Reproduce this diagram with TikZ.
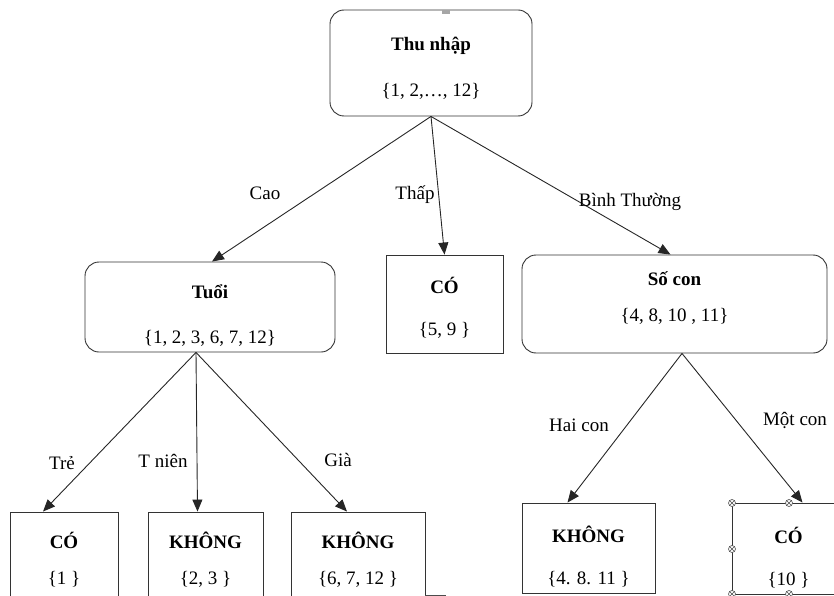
\documentclass[tikz,border=0pt]{standalone}
\usepackage{fontspec}
\setmainfont{Liberation Serif}
\usetikzlibrary{arrows.meta}
\tikzset{
  split/.style={draw=black!80, line width=0.9pt, rounded corners=14pt, inner sep=0pt},
  leaf/.style={draw=black!80, line width=0.9pt, inner sep=0pt},
  txt/.style={align=center, inner sep=0pt},
  branch/.style={black!85, line width=0.9pt, -{Triangle[length=12pt,width=10pt]}},
}
\begin{document}
\begin{tikzpicture}[x=1pt, y=-1pt, font=\fontsize{19}{22}\selectfont]
  \useasboundingbox (0,0) rectangle (834,596);
  \clip (0,0) rectangle (834,596);

  % root and first split
  \node[split, minimum width=202pt, minimum height=106pt] (root) at (431,63) {};
  \node[txt] (roottxt) at ([yshift=-5pt]root.center) {\textbf{Thu nhập}\\[24pt]\{1, 2,…, 12\}};
  \fill[gray!70] (442,10) rectangle (450,14);
  \node[split, minimum width=250pt, minimum height=90pt] (tuoi) at (210,307) {};
  \node[txt] (tuoitxt) at ([yshift=-8.5pt]tuoi.center) {\textbf{Tuổi}\\[23pt]\{1, 2, 3, 6, 7, 12\}};
  \node[leaf, minimum width=117pt, minimum height=98pt] (co59) at (444.5,304) {};
  \node[txt] (co59txt) at ([yshift=-4pt]co59.center) {\textbf{CÓ}\\[20pt]\{5, 9 \}};
  \node[split, minimum width=305pt, minimum height=98pt] (socon) at (674.5,304) {};
  \node[txt] (socontxt) at ([yshift=6pt]socon.center) {\textbf{Số con}\\[14pt]\{4, 8, 10 , 11\}};

  % leaves (cut at the lower edge)
  \node[leaf, minimum width=108pt, minimum height=100pt] (co1) at (64,562) {};
  \node[txt] (co1txt) at ([yshift=2pt]co1.center) {\textbf{CÓ}\\[14pt]\{1 \}};
  \node[leaf, minimum width=115pt, minimum height=100pt] (khong23) at (205.5,562) {};
  \node[txt] (khong23txt) at ([yshift=2pt]khong23.center) {\textbf{KHÔNG}\\[14pt]\{2, 3 \}};
  \node[leaf, minimum width=134pt, minimum height=100pt] (khong6712) at (358,562) {};
  \node[txt] (khong6712txt) at ([yshift=2pt]khong6712.center) {\textbf{KHÔNG}\\[14pt]\{6, 7, 12 \}};
  \draw[black!70, line width=0.9pt] (425,595) -- (446,595);
  \node[leaf, minimum width=133pt, minimum height=90pt] (khong4811) at (588.5,548) {};
  \node[txt] (khong4811txt) at ([yshift=-9pt]khong4811.center) {\textbf{KHÔNG}\\[20pt]\{4. 8. 11 \}};
  \node[leaf, minimum width=113pt, minimum height=91pt] (co10) at (788.5,548.5) {};
  \node[txt] (co10txt) at ([yshift=-9pt]co10.center) {\textbf{CÓ}\\[20pt]\{10 \}};
  \foreach \hx/\hy in {732/503, 789/503, 732/549, 732/594, 789/594} {
    \draw[black!70, fill=white, line width=0.6pt] (\hx,\hy) circle (3.5pt);
    \draw[black!70, line width=0.6pt] (\hx-2.4,\hy-2.4) -- (\hx+2.4,\hy+2.4) (\hx-2.4,\hy+2.4) -- (\hx+2.4,\hy-2.4);
  }

  % branches
  \draw[branch] (root.south) -- ([xshift=2pt]tuoi.north);
  \draw[branch] (root.south) -- (co59.north);
  \draw[branch] (root.south) -- ([xshift=-4pt]socon.north);
  \draw[branch] ([xshift=-14pt]tuoi.south) -- ([xshift=-21pt]co1.north);
  \draw[branch] ([xshift=-14pt]tuoi.south) -- ([xshift=-8pt]khong23.north);
  \draw[branch] ([xshift=-14pt]tuoi.south) -- ([xshift=-11pt]khong6712.north);
  \draw[branch] ([xshift=7.5pt]socon.south) -- ([xshift=-21pt]khong4811.north);
  \draw[branch] ([xshift=7.5pt]socon.south) -- ([xshift=14pt]co10.north);

  % branch labels
  \node (lcao) at (265,193) {Cao};
  \node (lthap) at (415,195) {Thấp};
  \node (lbinh) at (630,202) {Bình Thường};
  \node (ltre) at (62,463) {Trẻ};
  \node (ltnien) at (163,461) {T niên};
  \node (lgia) at (338,460) {Già};
  \node (lhai) at (579,425) {Hai con};
  \node (lmot) at (795,420) {Một con};
\end{tikzpicture}
\end{document}
